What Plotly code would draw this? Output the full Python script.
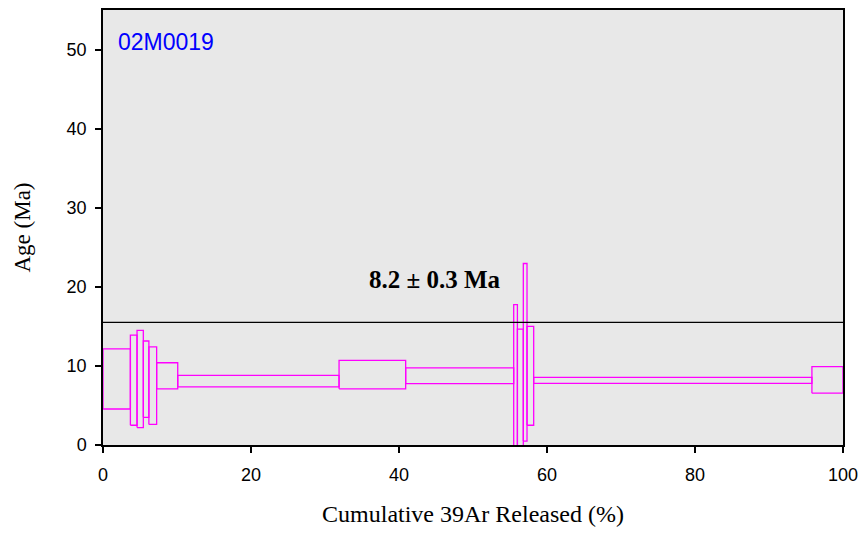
import plotly.graph_objects as go

# Step heating data: cumulative 39Ar release (%) and age envelope (Ma)
step_start = [0.0, 3.7, 4.6, 5.45, 6.2, 7.25, 10.1, 31.9, 40.9, 55.5, 56.0, 56.8, 57.3, 58.2, 95.8]
step_end = [3.7, 4.6, 5.45, 6.2, 7.25, 10.1, 31.9, 40.9, 55.5, 56.0, 56.8, 57.3, 58.2, 95.8, 100.0]
age_high = [12.15, 13.9, 14.5, 13.15, 12.4, 10.4, 8.8, 10.7, 9.75, 17.75, 14.65, 22.95, 15.0, 8.55, 9.9]
age_low = [4.55, 2.5, 2.2, 3.5, 2.6, 7.1, 7.35, 7.1, 7.75, -2.0, -2.0, 0.5, 2.5, 7.8, 6.55]

plateau_x = [0, 100]
plateau_y = [15.5, 15.5]
plateau_label = "8.2 ± 0.3 Ma"
sample_name = "02M0019"

fig = go.Figure()

# one closed box per step
for x0, x1, hi, lo in zip(step_start, step_end, age_high, age_low):
    fig.add_trace(go.Scatter(
        x=[x0, x1, x1, x0, x0],
        y=[lo, lo, hi, hi, lo],
        mode="lines",
        line=dict(color="#FF00FF", width=1.3),
        hoverinfo="skip",
        showlegend=False,
    ))

# plateau line
fig.add_trace(go.Scatter(
    x=plateau_x, y=plateau_y, mode="lines",
    line=dict(color="black", width=1.3),
    showlegend=False,
))

fig.add_annotation(
    x=44.8, y=20.9, text="<b>" + plateau_label + "</b>", showarrow=False,
    font=dict(family="Liberation Serif", size=25, color="black"),
)
fig.add_annotation(
    x=0.018, y=0.96, xref="paper", yref="paper", xanchor="left", yanchor="top",
    text=sample_name, showarrow=False,
    font=dict(family="Liberation Sans", size=23, color="#0000FF"),
)

# page body adds ~8px around the figure, so keep it inside the window
fig.update_layout(
    width=850,
    height=519,
    margin=dict(l=95, r=10, t=0, b=82),
    plot_bgcolor="#E8E8E8",
    paper_bgcolor="white",
    font=dict(family="Liberation Sans", size=18, color="black"),
)
fig.update_xaxes(
    range=[0, 100], tickvals=[0, 20, 40, 60, 80, 100],
    showgrid=False, zeroline=False,
    showline=True, mirror=True, linecolor="black", linewidth=1.5,
    ticks="outside", ticklen=6, tickcolor="black", tickwidth=1.5,
    ticklabelstandoff=7, ticklabeloverflow="allow",
    title=dict(text="Cumulative 39Ar Released (%)", standoff=21,
               font=dict(family="Liberation Serif", size=24)),
)
fig.update_yaxes(
    range=[0, 55], tickvals=[0, 10, 20, 30, 40, 50],
    showgrid=False, zeroline=False,
    showline=True, mirror=True, linecolor="black", linewidth=1.5,
    ticks="outside", ticklen=6, tickcolor="black", tickwidth=1.5,
    ticklabelstandoff=5,
    title=dict(text="Age (Ma)", standoff=30,
               font=dict(family="Liberation Serif", size=23)),
)

fig.write_html("out.html")
